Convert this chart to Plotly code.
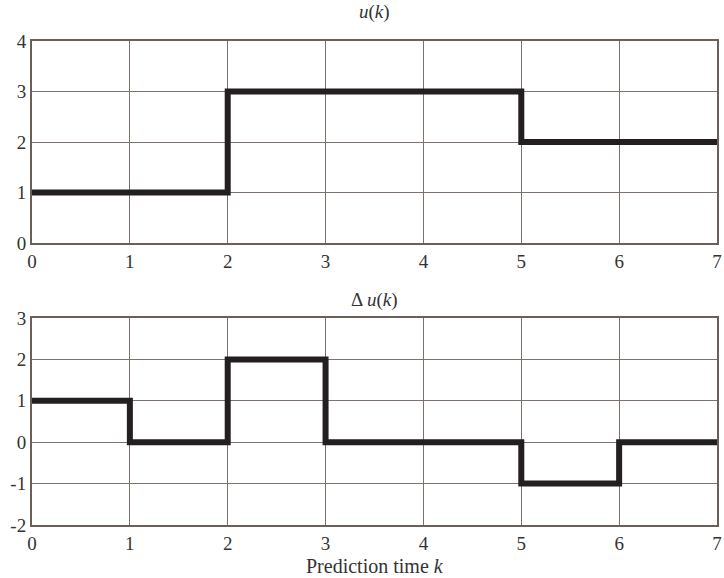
import plotly.graph_objects as go
from plotly.subplots import make_subplots

k = [0, 1, 2, 3, 4, 5, 6, 7]
u = [1, 1, 3, 3, 3, 2, 2, 2]
du = [1, 0, 2, 0, 0, -1, 0, 0]
x_ticks = [0, 1, 2, 3, 4, 5, 6, 7]
u_ticks = [0, 1, 2, 3, 4]
du_ticks = [-2, -1, 0, 1, 2, 3]

fig = make_subplots(rows=2, cols=1, vertical_spacing=0.15)
line_style = dict(color="#231f20", width=6, shape="hv")
fig.add_trace(go.Scatter(x=k, y=u, mode="lines", line=line_style, showlegend=False), row=1, col=1)
fig.add_trace(go.Scatter(x=k, y=du, mode="lines", line=line_style, showlegend=False), row=2, col=1)

FAM = "Liberation Serif, Times New Roman, serif"
font = dict(family=FAM, size=19, color="#333")
grid = "#7d716c"
axis_common = dict(showgrid=True, gridcolor=grid, gridwidth=1, showline=True, linecolor="#6b5f5a",
                   linewidth=2, mirror=True, zeroline=False, ticks="", tickfont=font,
                   automargin=False, ticklabeloverflow="allow")

fig.update_xaxes(range=[0, 7], tickvals=x_ticks, ticktext=[str(v) for v in x_ticks], **axis_common)
fig.update_yaxes(**axis_common)
fig.update_yaxes(range=[0, 4], tickvals=u_ticks, ticktext=[str(v) for v in u_ticks], row=1, col=1)
fig.update_yaxes(range=[-2, 3], tickvals=du_ticks, ticktext=[str(v) for v in du_ticks], row=2, col=1)
fig.update_layout(
    xaxis=dict(domain=[0, 1]),
    yaxis=dict(domain=[0.5826, 1]),
    yaxis2=dict(domain=[0, 0.4277]),
)

fig.add_annotation(text="<i>u</i>(<i>k</i>)", xref="paper", yref="paper", x=0.5, y=1, yshift=29,
                   yanchor="middle", showarrow=False, font=dict(family=FAM, size=19, color="#333"))
fig.add_annotation(text="Δ <i>u</i>(<i>k</i>)", xref="paper", yref="paper", x=0.5, y=0.4277, yshift=18,
                   yanchor="middle", showarrow=False, font=dict(family=FAM, size=19, color="#333"))
fig.add_annotation(text="Prediction time <i>k</i>", xref="paper", yref="paper", x=0.5, y=0, yshift=-41,
                   yanchor="middle", showarrow=False, font=dict(family=FAM, size=20, color="#333"))

fig.update_layout(width=724, height=578, margin=dict(l=32, r=7, t=41, b=53, autoexpand=False),
                  plot_bgcolor="white", paper_bgcolor="white")
fig.write_html("out.html", config={"displayModeBar": False},
               post_script="document.body.style.margin='0';document.body.style.overflow='hidden';")
